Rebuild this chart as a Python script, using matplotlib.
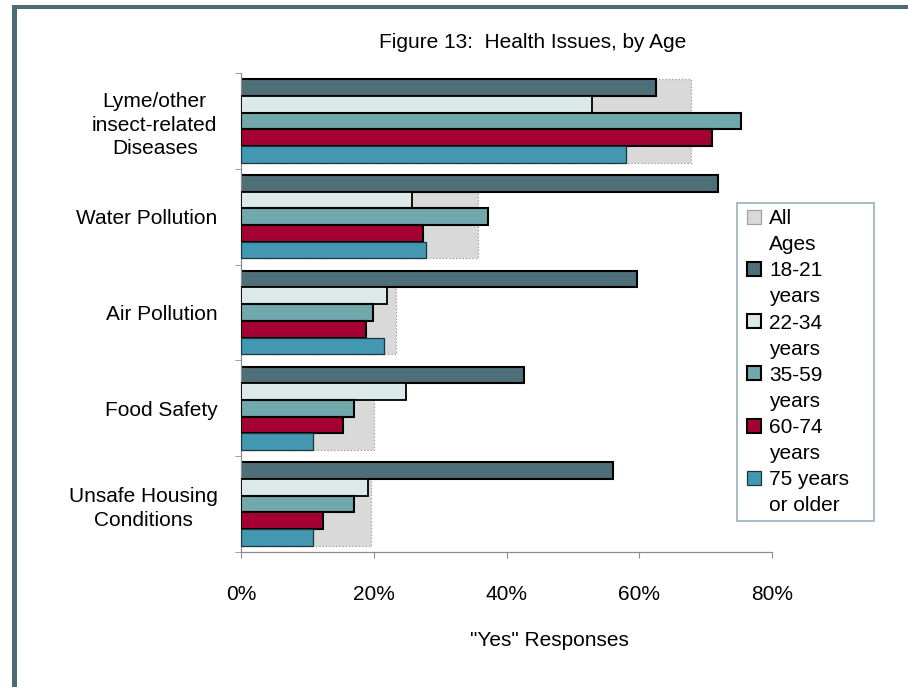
import matplotlib
matplotlib.use("Agg")
import matplotlib.pyplot as plt
from matplotlib.patches import Rectangle
from matplotlib.lines import Line2D
import numpy as np

# ---------------- data ----------------
categories = ["Lyme/other\ninsect-related\nDiseases", "Water Pollution",
              "Air Pollution", "Food Safety", "Unsafe Housing\nConditions"]
all_ages    = [67.8, 35.7, 23.4, 20.0, 19.6]
age_18_21   = [62.5, 71.8, 59.7, 42.7, 56.0]
age_22_34   = [52.9, 25.8, 22.0, 24.9, 19.1]
age_35_59   = [75.4, 37.2, 19.9, 17.0, 17.0]
age_60_74   = [71.0, 27.4, 18.8, 15.3, 12.4]
age_75_plus = [58.0, 27.9, 21.5, 10.8, 10.8]
legend_lines = [("All", "Ages"), ("18-21", "years"), ("22-34", "years"),
                ("35-59", "years"), ("60-74", "years"), ("75 years", "or older")]
xticks = [0, 20, 40, 60, 80]
xtick_labels = ["0%", "20%", "40%", "60%", "80%"]
title = "Figure 13:  Health Issues, by Age"
xlabel = '"Yes" Responses'

# ---------------- style ----------------
FONT = "Liberation Sans"
FS = 15
plt.rcParams["font.family"] = [FONT, "DejaVu Sans"]

W, H = 908, 687
fig = plt.figure(figsize=(W / 100, H / 100), dpi=100)
fig.patch.set_facecolor("white")

def fx(px):
    return px / W

def fy(py):
    return 1 - py / H

ax_left, ax_right, ax_top, ax_bot = 241, 772, 73, 552
ax = fig.add_axes([fx(ax_left), fy(ax_bot), fx(ax_right - ax_left), (ax_bot - ax_top) / H])

series = [age_18_21, age_22_34, age_35_59, age_60_74, age_75_plus]
colors = ["#4e6e78", "#dbe9e9", "#70a9ab", "#a50034", "#4398b1"]
edges = ["#000000", "#000000", "#000000", "#000000", "#1c3640"]
lws = [1.5, 1.3, 1.5, 1.5, 0.9]

n = len(categories)
y = np.arange(n)
h = 0.174

ax.barh(y, all_ages, height=5 * h, color="#d9d9d9", edgecolor="#a0a0a0",
        linestyle=":", linewidth=0.9, zorder=1)
for k, (vals, c, ec, lw) in enumerate(zip(series, colors, edges, lws)):
    ax.barh(y + (k - 2) * h, vals, height=h, color=c, edgecolor=ec,
            linewidth=lw, zorder=2 + k)

ax.set_xlim(0, 80)
ax.set_ylim(n - 0.5, -0.5)

for s in ["top", "right"]:
    ax.spines[s].set_visible(False)
for s in ["left", "bottom"]:
    ax.spines[s].set_color("#8c8c8c")
    ax.spines[s].set_linewidth(0.9)

ax.set_xticks(xticks)
ax.set_xticklabels(xtick_labels, fontsize=FS)
ax.tick_params(axis="x", length=4, color="#8c8c8c", pad=20)

ax.set_yticks(y)
ax.set_yticklabels(categories, fontsize=FS, multialignment="center", linespacing=1.3)
ax.tick_params(axis="y", which="major", length=0, pad=17)
ax.set_yticks(np.arange(n + 1) - 0.5, minor=True)
ax.tick_params(axis="y", which="minor", length=4, color="#8c8c8c")

# title and axis label
fig.text(fx(533), fy(43), title, ha="center", va="center", fontsize=FS)
fig.text(fx(549), fy(640), xlabel, ha="center", va="center", fontsize=FS)

# legend (each wrapped line is its own row, handle on first line)
handles, labels = [], []
leg_colors = ["#d9d9d9"] + colors
leg_edges = ["#a0a0a0"] + ["#000000"] * 4 + ["#1c3640"]
for (l1, l2), fc, ec in zip(legend_lines, leg_colors, leg_edges):
    handles.append(Line2D([], [], linestyle="none", marker="s", markersize=9.5,
                          markerfacecolor=fc, markeredgecolor=ec,
                          markeredgewidth=1.5 if ec == "#000000" else 0.9))
    labels.append(l1)
    handles.append(Line2D([], [], linestyle="none", marker="s", markersize=9.5,
                          markerfacecolor="none", markeredgecolor="none"))
    labels.append(l2)

leg = fig.legend(handles, labels, loc="upper left",
                 bbox_to_anchor=(fx(737), fy(523), fx(874) - fx(737), (523 - 203) / H),
                 bbox_transform=fig.transFigure, mode="expand", borderaxespad=0,
                 fontsize=FS, frameon=True, fancybox=False, borderpad=0.3,
                 labelspacing=0.34, handlelength=1.0, handletextpad=0.25)
leg.get_frame().set_edgecolor("#7f9caa")
leg.get_frame().set_linewidth(1.2)

# outer frame lines (top and left)
frame_c = "#4d6b75"
fig.patches.append(Rectangle((fx(12), 0), fx(5), fy(5), transform=fig.transFigure,
                             facecolor=frame_c, edgecolor="none"))
fig.patches.append(Rectangle((fx(12), fy(9)), 1 - fx(12), 4 / H, transform=fig.transFigure,
                             facecolor=frame_c, edgecolor="none"))

fig.savefig("out.png", dpi=100)
